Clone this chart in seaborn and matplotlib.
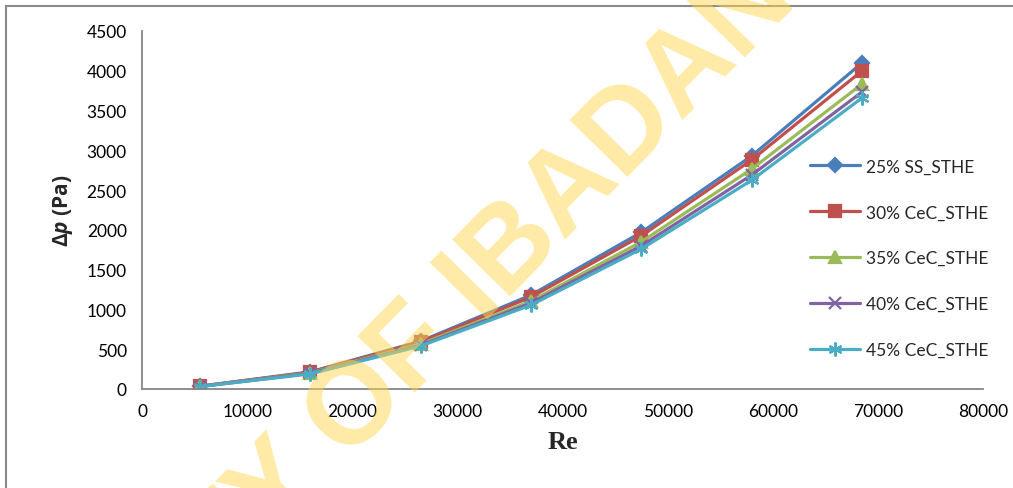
import pandas as pd
import seaborn as sns
import matplotlib.pyplot as plt
from matplotlib.patches import Rectangle

# Data
re_values = [5500, 16000, 26500, 37000, 47500, 58000, 68500]
ss_25 = [35, 215, 600, 1180, 1970, 2930, 4100]
cec_30 = [34, 210, 590, 1155, 1925, 2880, 4000]
cec_35 = [32, 200, 565, 1105, 1850, 2765, 3835]
cec_40 = [31, 195, 550, 1080, 1800, 2690, 3735]
cec_45 = [30, 190, 540, 1055, 1760, 2625, 3660]

series_names = ['25% SS_STHE', '30% CeC_STHE', '35% CeC_STHE', '40% CeC_STHE', '45% CeC_STHE']
series_values = [ss_25, cec_30, cec_35, cec_40, cec_45]
colors = ['#4A7EBB', '#C0504D', '#9BBB59', '#8064A2', '#4BACC6']
markers = ['D', 's', '^', 'x', (6, 2, 0)]
marker_sizes = [7, 9, 8, 9, 10]

sns.set_style('white')
plt.rcParams['font.family'] = ['Lato', 'DejaVu Sans']
plt.rcParams['mathtext.fontset'] = 'custom'
plt.rcParams['mathtext.rm'] = 'Open Sans'
plt.rcParams['mathtext.bf'] = 'Open Sans:bold'
plt.rcParams['mathtext.bfit'] = 'Open Sans:bold:italic'

fig = plt.figure(figsize=(10.13, 4.89), dpi=100)
ax = fig.add_axes([0.1402, 0.2025, 0.8302, 0.7321])

for name, vals, c, m, ms in zip(series_names, series_values, colors, markers, marker_sizes):
    df = pd.DataFrame({'Re': re_values, 'dp': vals})
    sns.lineplot(data=df, x='Re', y='dp', ax=ax, color=c, marker=m, markersize=ms,
                 markeredgecolor=c, markeredgewidth=1.6, linewidth=2.3, label=name)

ax.set_xlim(0, 80000)
ax.set_ylim(0, 4500)
ax.set_xticks(range(0, 80001, 10000))
ax.set_yticks(range(0, 4501, 500))

gray = '#868686'
for side in ['top', 'right']:
    ax.spines[side].set_visible(False)
for side in ['left', 'bottom']:
    ax.spines[side].set_color(gray)
    ax.spines[side].set_linewidth(1.3)
ax.tick_params(axis='both', direction='out', length=5, width=1.2, color=gray,
               labelsize=12.5, labelcolor='black', pad=5)
ax.tick_params(axis='y', pad=6)

ax.set_xlabel('Re', fontsize=19, fontweight='bold', family='Liberation Serif', labelpad=8)
ax.set_ylabel(r'$\mathbf{\Delta}\mathbfit{p}$ $\mathbf{(Pa)}$', fontsize=15, labelpad=8)

leg = ax.legend(loc='center left', bbox_to_anchor=(0.7996, 0.47), bbox_transform=fig.transFigure,
                frameon=False, fontsize=12.5, handlelength=2.9, handletextpad=0.3,
                labelspacing=1.72, borderpad=0, borderaxespad=0)

# outer chart frame
fig.patches.append(Rectangle((6 / 1013, -0.1), 1.2, 1.1 - 7 / 489, transform=fig.transFigure,
                             fill=False, edgecolor='#8a8a8a', linewidth=1.5))

# watermark
fig.text(0.3145, -0.0062, 'UNIVERSITY OF IBADAN', rotation=45.5, rotation_mode='anchor',
         ha='center', va='baseline', fontsize=83.5, fontweight='bold', family='Liberation Sans',
         color='#FFD54F', alpha=0.5, zorder=10)

plt.savefig('out.png', dpi=100)
